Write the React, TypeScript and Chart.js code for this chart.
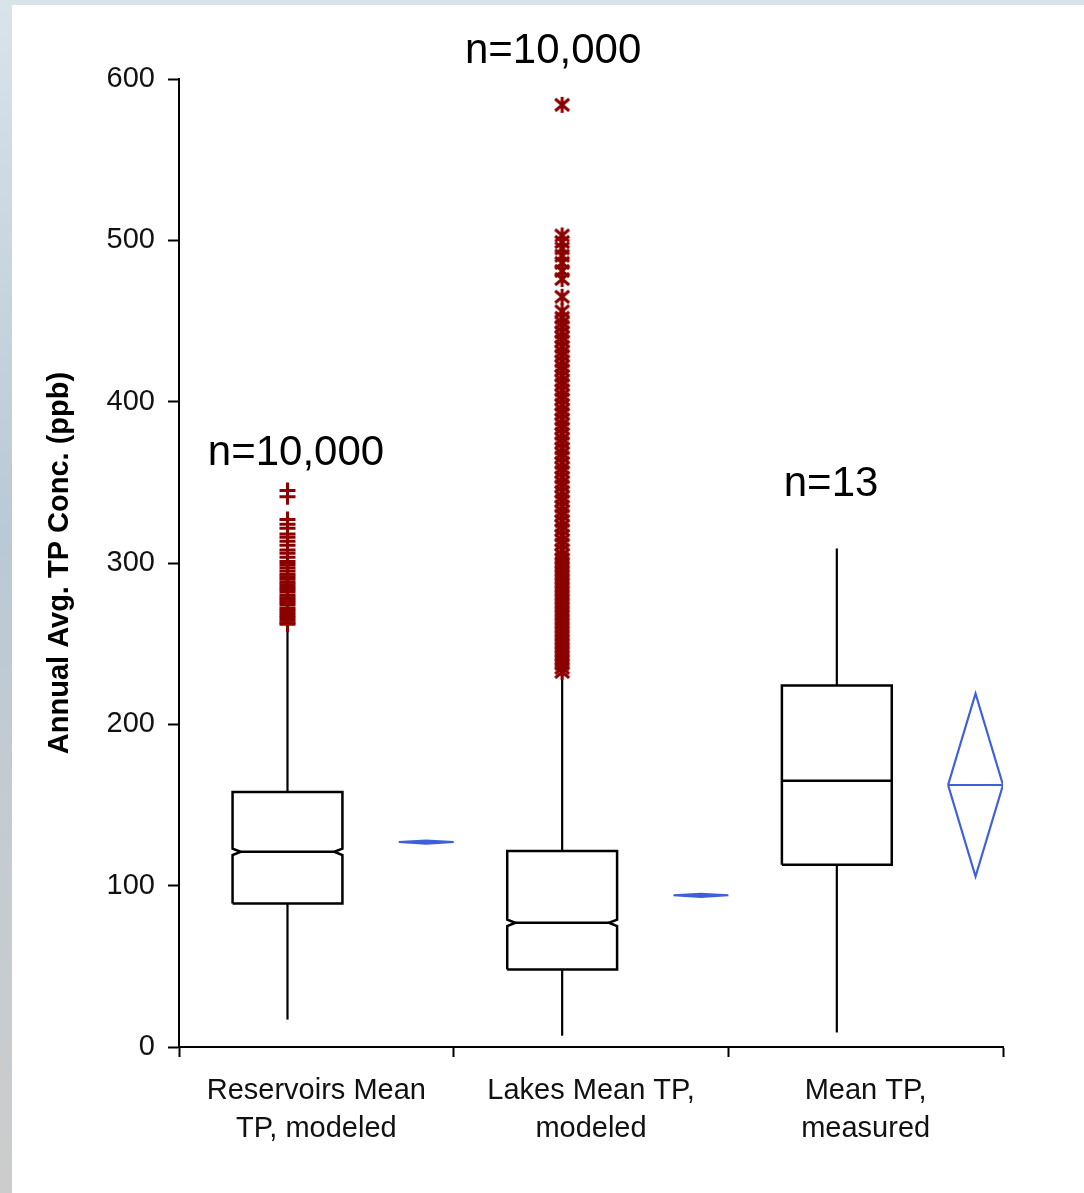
import React, { useEffect, useRef } from "react";
import { Chart, registerables } from "chart.js";

Chart.register(...registerables);

// ---------------- data ----------------
const categories: string[][] = [
  ["Reservoirs Mean", "TP, modeled"],
  ["Lakes Mean TP,", "modeled"],
  ["Mean TP,", "measured"],
];
const yTickValues = [0, 100, 200, 300, 400, 500, 600];
const xTickValues = [0, 0.5, 1, 1.5, 2, 2.5, 3];

const whiskerLow = [17, 7, 9];
const q1 = [89, 48, 113];
const median = [121, 77, 165];
const q3 = [158, 121.5, 224];
const whiskerHigh = [261, 232, 309];
const notchHalf = [2.0, 2.0, 0];
const meanValue = [127, 94, 162.4];
const meanCIHalf = [1.0, 1.0, 56.7];
const sampleSizes = ["n=10,000", "n=10,000", "n=13"];

const reservoirOutliers = [
  345, 341, 327, 324, 321.5, 318, 316, 313.5, 311, 308, 306, 303.5, 301, 299,
  297, 295, 293, 291.5, 290, 288, 286.5, 285, 283.5, 282, 280, 278.5, 277,
  275.5, 274, 272, 270.5, 269, 267.5, 266, 264.5, 263, 262,
];

const lakeOutliers = [
  584, 503, 499, 495, 490.5, 486, 481, 476, 465, 456, 452, 449, 446.5, 443,
  440, 437.5, 434, 431, 428.5, 425, 422, 419.5, 416, 413, 410.5, 407, 404,
  401.5, 398, 395, 392.5, 389, 386, 383.5, 380, 377, 374.5, 371, 368, 365.5,
  362, 359, 356.5, 353, 350, 347.5, 344, 341, 338.5, 335, 332, 329.5, 326,
  323, 320.5, 317, 314, 311.5, 308, 305, 302.5, 300, 297.5, 295, 292.5, 290,
  287.5, 285, 282.5, 280, 277.5, 275, 272.5, 270, 267.5, 265, 262.5, 260,
  257.5, 255, 252.5, 250, 247.5, 245, 242.5, 240, 237.5, 235, 232.5,
];

// ---------------- styling constants ----------------
const FONT = "'Liberation Sans', Arial, Helvetica, sans-serif";
const RED = "#8b0000";
const BLUE = "#3f60d8";
const BOX_CENTER = 0.395;
const BOX_HALF = 0.2;
const NOTCH_DEPTH = 0.03;
const MEAN_CENTER = 0.9;
const MEAN_HALF = 0.1;
const nLabelPos = [
  { x: 0.426, y: 368 },
  { x: 1.362, y: 617 },
  { x: 2.374, y: 349 },
];

export default function App() {
  const ref = useRef<HTMLCanvasElement>(null);

  useEffect(() => {
    const canvas = ref.current;
    if (!canvas) return;

    // asterisk marker
    const star = document.createElement("canvas");
    star.width = 18;
    star.height = 18;
    const sc = star.getContext("2d")!;
    sc.strokeStyle = RED;
    sc.lineWidth = 3;
    sc.beginPath();
    sc.moveTo(9, 1);
    sc.lineTo(9, 17);
    sc.moveTo(2, 3);
    sc.lineTo(16, 15);
    sc.moveTo(2, 15);
    sc.lineTo(16, 3);
    sc.stroke();

    const line = (data: any[], color = "#000", width = 2, extra: any = {}) => ({
      data,
      showLine: true,
      borderColor: color,
      backgroundColor: color,
      borderWidth: width,
      pointRadius: 0,
      pointHoverRadius: 0,
      tension: 0,
      fill: false,
      ...extra,
    });

    const datasets: any[] = [];

    datasets.push({
      data: reservoirOutliers.map((v) => ({ x: 0 + BOX_CENTER, y: v })),
      pointStyle: "cross",
      pointRadius: 8,
      pointBorderWidth: 3,
      borderColor: RED,
      backgroundColor: RED,
      showLine: false,
    });
    datasets.push({
      data: lakeOutliers.map((v) => ({ x: 1 + BOX_CENTER, y: v })),
      pointStyle: star,
      pointRadius: 9,
      borderColor: RED,
      backgroundColor: RED,
      showLine: false,
    });

    for (let i = 0; i < 3; i++) {
      const c = i + BOX_CENTER;
      const L = c - BOX_HALF;
      const R = c + BOX_HALF;
      const n = notchHalf[i];
      const m = median[i];
      const d = n > 0 ? NOTCH_DEPTH : 0;
      const outline =
        n > 0
          ? [
              { x: L, y: q1[i] },
              { x: L, y: m - n },
              { x: L + d, y: m },
              { x: L, y: m + n },
              { x: L, y: q3[i] },
              { x: R, y: q3[i] },
              { x: R, y: m + n },
              { x: R - d, y: m },
              { x: R, y: m - n },
              { x: R, y: q1[i] },
              { x: L, y: q1[i] },
            ]
          : [
              { x: L, y: q1[i] },
              { x: L, y: q3[i] },
              { x: R, y: q3[i] },
              { x: R, y: q1[i] },
              { x: L, y: q1[i] },
            ];
      datasets.push(line(outline, "#000", 2.5));
      datasets.push(line([{ x: L + d, y: m }, { x: R - d, y: m }], "#000", 2.5));
      datasets.push(line([{ x: c, y: whiskerLow[i] }, { x: c, y: q1[i] }], "#000", 2.2));
      datasets.push(line([{ x: c, y: q3[i] }, { x: c, y: whiskerHigh[i] }], "#000", 2.2));

      const mc = i + MEAN_CENTER;
      const mv = meanValue[i];
      const h = meanCIHalf[i];
      const diamond = [
        { x: mc - MEAN_HALF, y: mv },
        { x: mc, y: mv + h },
        { x: mc + MEAN_HALF, y: mv },
        { x: mc, y: mv - h },
        { x: mc - MEAN_HALF, y: mv },
      ];
      if (h < 5) {
        datasets.push(line(diamond, BLUE, 2, { fill: "shape" }));
      } else {
        datasets.push(line(diamond, BLUE, 2.2));
        datasets.push(
          line([{ x: mc - MEAN_HALF, y: mv }, { x: mc + MEAN_HALF, y: mv }], BLUE, 2.2)
        );
      }
    }

    const nLabels = {
      id: "nLabels",
      afterDatasetsDraw(chart: any) {
        const { ctx, scales } = chart;
        ctx.save();
        ctx.font = `42px ${FONT}`;
        ctx.fillStyle = "#000";
        ctx.textAlign = "center";
        ctx.textBaseline = "middle";
        sampleSizes.forEach((t, i) => {
          ctx.fillText(
            t,
            scales.x.getPixelForValue(nLabelPos[i].x),
            scales.y.getPixelForValue(nLabelPos[i].y)
          );
        });
        ctx.restore();
      },
    };

    const chart = new Chart(canvas, {
      type: "scatter",
      data: { datasets },
      plugins: [nLabels],
      options: {
        animation: false,
        responsive: false,
        events: [],
        layout: { padding: { top: 74, right: 81, bottom: 0, left: 0 } },
        plugins: {
          legend: { display: false },
          tooltip: { enabled: false },
        },
        scales: {
          x: {
            type: "linear",
            min: 0,
            max: 3,
            afterBuildTicks: (s: any) => {
              s.ticks = xTickValues.map((v) => ({ value: v }));
            },
            afterFit: (s: any) => {
              s.height = 146;
            },
            ticks: {
              autoSkip: false,
              maxRotation: 0,
              minRotation: 0,
              padding: 15,
              color: "#111",
              font: { family: FONT, size: 29, lineHeight: 1.3 },
              callback: (v: any) => {
                const num = Number(v);
                if (Number.isInteger(num)) return "";
                return categories[Math.floor(num)];
              },
            },
            grid: {
              drawOnChartArea: false,
              drawTicks: true,
              tickLength: 10,
              tickWidth: 2,
              tickColor: (ctx: any) =>
                ctx.tick && Number.isInteger(ctx.tick.value) ? "#000" : "rgba(0,0,0,0)",
            },
            border: { display: true, color: "#000", width: 2 },
          },
          y: {
            type: "linear",
            min: 0,
            max: 600,
            afterBuildTicks: (s: any) => {
              s.ticks = yTickValues.map((v) => ({ value: v }));
            },
            afterFit: (s: any) => {
              s.width = 167;
            },
            ticks: {
              padding: 13,
              color: "#111",
              font: { family: FONT, size: 29 },
            },
            grid: {
              drawOnChartArea: false,
              drawTicks: true,
              tickLength: 11,
              tickWidth: 2,
              tickColor: "#000",
            },
            border: { display: true, color: "#000", width: 2 },
            title: {
              display: true,
              text: "Annual Avg. TP Conc. (ppb)",
              color: "#000",
              font: { family: FONT, size: 29, weight: "bold", lineHeight: 1.2 },
              padding: { top: 31, bottom: 0 },
            },
          },
        },
      } as any,
    });

    return () => chart.destroy();
  }, []);

  return (
    <div
      style={{
        position: "absolute",
        left: 0,
        top: 0,
        width: 1084,
        height: 1193,
        overflow: "hidden",
        background:
          "linear-gradient(to bottom, #d9e3ea 0%, #c6d4de 25%, #b9c9d5 45%, #c3cbd1 65%, #cccccc 100%)",
      }}
    >
      <div
        style={{
          position: "absolute",
          left: 12,
          top: 5,
          width: 1072,
          height: 1188,
          background: "#ffffff",
        }}
      >
        <canvas ref={ref} width={1072} height={1188} style={{ display: "block" }} />
      </div>
    </div>
  );
}
